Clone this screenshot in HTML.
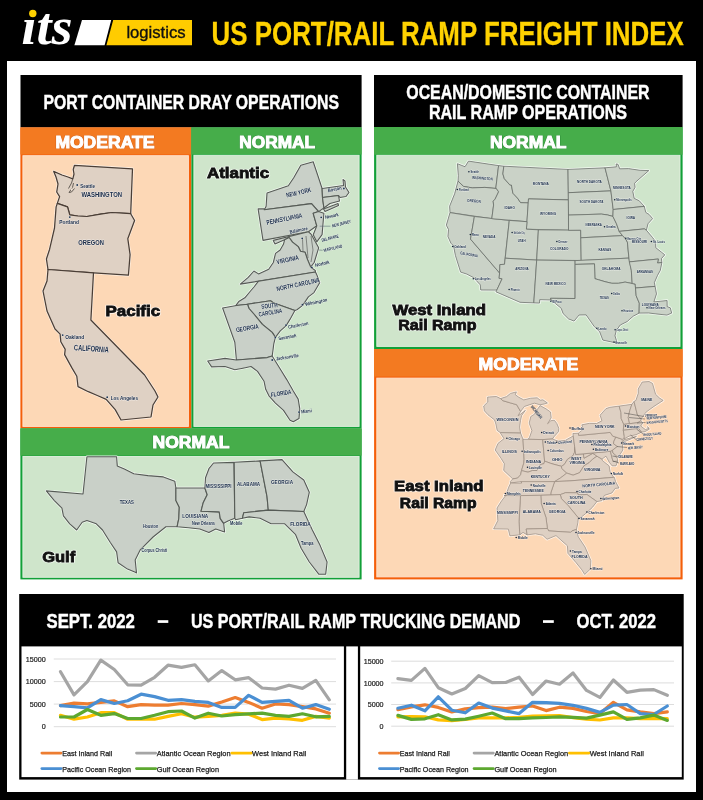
<!DOCTYPE html>
<html><head><meta charset="utf-8">
<style>
html,body{margin:0;padding:0;background:#000;width:703px;height:800px;overflow:hidden}
svg{display:block;will-change:transform}
text{font-family:"Liberation Sans",sans-serif}
.hb{font-weight:bold;fill:#fff}
.lab{font-size:5px;fill:#172a48;paint-order:stroke;stroke:rgba(255,255,255,0.55);stroke-width:0.8px;stroke-linejoin:round;font-family:"Liberation Sans",sans-serif}
.st{fill:none;stroke:#5b5b5b;stroke-width:0.8;stroke-linejoin:round}
</style></head>
<body>
<svg width="703" height="800" viewBox="0 0 703 800">
<rect x="0" y="0" width="703" height="800" fill="#000"/>
<!-- logo -->
<text x="21.5" y="44.2" font-family="Liberation Serif" font-style="italic" font-weight="bold" font-size="53" fill="#fff" textLength="51" lengthAdjust="spacingAndGlyphs" style="font-family:'Liberation Serif',serif">&#305;ts</text>
<circle cx="32.8" cy="13.5" r="3.7" fill="#FFD200"/>
<polygon points="82,20.1 111.2,20.1 104.6,45.2 74.4,45.2" fill="#fff"/>
<polygon points="113.2,20.1 192,20.1 192,45.2 106.4,45.2" fill="#FFCC00"/>
<text x="126.4" y="37.7" font-size="16" fill="#111" stroke="#111" stroke-width="0.35" textLength="59.2" lengthAdjust="spacingAndGlyphs">logistics</text>
<!-- title -->
<text x="211.6" y="45.1" font-size="33.6" font-weight="bold" fill="#FFD200" stroke="#FFD200" stroke-width="0.3" textLength="472.2" lengthAdjust="spacingAndGlyphs">US PORT/RAIL RAMP FREIGHT INDEX</text>

<!-- white frame -->
<rect x="7" y="61" width="689" height="731" fill="#fff"/>

<!-- LEFT PANEL -->
<rect x="20.5" y="75" width="341.1" height="52.5" fill="#000"/>
<text class="hb" x="43.5" y="109.2" font-size="20.2" textLength="295.4" lengthAdjust="spacingAndGlyphs" stroke="#fff" stroke-width="0.45">PORT CONTAINER DRAY OPERATIONS</text>

<!-- orange column -->
<rect x="20.4" y="127.5" width="171" height="300.9" fill="#F45F0A"/>
<rect x="20.4" y="127.5" width="171" height="27" fill="#F37A21"/>
<rect x="22.9" y="155.7" width="165.5" height="270.7" fill="#FDD8B6" stroke="#FEE6D2" stroke-width="0.9"/>
<text class="hb" x="55.4" y="147.5" font-size="16" textLength="99" lengthAdjust="spacingAndGlyphs" stroke="#d9651c" stroke-width="2.2" fill="#d9651c" stroke-linejoin="round" opacity="0.8">MODERATE</text>
<text class="hb" x="55.4" y="147.5" font-size="16" textLength="99" lengthAdjust="spacingAndGlyphs" stroke="#fff" stroke-width="1.0">MODERATE</text>

<!-- green column -->
<rect x="191.4" y="127.5" width="170.2" height="300.8" fill="#12A038"/>
<rect x="191.4" y="127.5" width="170.2" height="27" fill="#46AD4A"/>
<rect x="193.9" y="155.3" width="165.2" height="271.1" fill="#CFE5CB" stroke="#E4F0E2" stroke-width="0.9"/>
<text class="hb" x="239.3" y="147.5" font-size="16" textLength="75.8" lengthAdjust="spacingAndGlyphs" stroke="#2f8f3a" stroke-width="2.2" fill="#2f8f3a" stroke-linejoin="round" opacity="0.8">NORMAL</text>
<text class="hb" x="239.3" y="147.5" font-size="16" textLength="75.8" lengthAdjust="spacingAndGlyphs" stroke="#fff" stroke-width="1.0">NORMAL</text>

<!-- gulf -->
<rect x="20.4" y="428.4" width="341.2" height="151" fill="#12A038"/>
<rect x="20.4" y="428.4" width="341.2" height="27.2" fill="#46AD4A"/>
<rect x="22.9" y="456.5" width="336.2" height="120.8" fill="#CFE5CB" stroke="#E4F0E2" stroke-width="0.9"/>
<text class="hb" x="152.6" y="448.1" font-size="16" textLength="76.8" lengthAdjust="spacingAndGlyphs" stroke="#2f8f3a" stroke-width="2.2" fill="#2f8f3a" stroke-linejoin="round" opacity="0.8">NORMAL</text>
<text class="hb" x="152.6" y="448.1" font-size="16" textLength="76.8" lengthAdjust="spacingAndGlyphs" stroke="#fff" stroke-width="1.0">NORMAL</text>

<!-- RIGHT PANEL -->
<rect x="374" y="75" width="308.6" height="52" fill="#000"/>
<text class="hb" x="406.3" y="99.1" font-size="19.6" textLength="243.2" lengthAdjust="spacingAndGlyphs" stroke="#fff" stroke-width="0.45">OCEAN/DOMESTIC CONTAINER</text>
<text class="hb" x="428.9" y="118.8" font-size="19.6" textLength="198.2" lengthAdjust="spacingAndGlyphs" stroke="#fff" stroke-width="0.45">RAIL RAMP OPERATIONS</text>

<rect x="374.1" y="127" width="308.5" height="222.2" fill="#12A038"/>
<rect x="374.1" y="127" width="308.5" height="27.7" fill="#46AD4A"/>
<rect x="376.8" y="155.3" width="303.2" height="191.1" fill="#CFE5CB" stroke="#E4F0E2" stroke-width="0.9"/>
<text class="hb" x="489.9" y="147.5" font-size="16" textLength="76.6" lengthAdjust="spacingAndGlyphs" stroke="#2f8f3a" stroke-width="2.2" fill="#2f8f3a" stroke-linejoin="round" opacity="0.8">NORMAL</text>
<text class="hb" x="489.9" y="147.5" font-size="16" textLength="76.6" lengthAdjust="spacingAndGlyphs" stroke="#fff" stroke-width="1.0">NORMAL</text>

<rect x="374.1" y="349.2" width="308.5" height="230.2" fill="#F45F0A"/>
<rect x="374.1" y="349.2" width="308.5" height="27.4" fill="#F37A21"/>
<rect x="376.8" y="378.1" width="303.2" height="198.8" fill="#FDD8B6" stroke="#FEE6D2" stroke-width="0.9"/>
<text class="hb" x="478.5" y="370" font-size="16" textLength="99.8" lengthAdjust="spacingAndGlyphs" stroke="#d9651c" stroke-width="2.2" fill="#d9651c" stroke-linejoin="round" opacity="0.8">MODERATE</text>
<text class="hb" x="478.5" y="370" font-size="16" textLength="99.8" lengthAdjust="spacingAndGlyphs" stroke="#fff" stroke-width="1.0">MODERATE</text>

<!-- BOTTOM PANEL -->
<rect x="19.2" y="594" width="664.5" height="185.6" fill="#000"/>
<rect x="21.5" y="646.4" width="322.4" height="130.7" fill="#fff"/>
<rect x="346.2" y="646.4" width="11.7" height="133.2" fill="#fff"/>
<rect x="360.2" y="646.4" width="321.6" height="130.7" fill="#fff"/>
<text class="hb" x="46.5" y="627.7" font-size="20.2" textLength="88.4" lengthAdjust="spacingAndGlyphs" stroke="#fff" stroke-width="0.45">SEPT. 2022</text>
<rect x="157.7" y="620.2" width="10.6" height="2.7" fill="#fff"/>
<text class="hb" x="190.9" y="627.7" font-size="20.2" textLength="329.4" lengthAdjust="spacingAndGlyphs" stroke="#fff" stroke-width="0.45">US PORT/RAIL RAMP TRUCKING DEMAND</text>
<rect x="543" y="620.2" width="10.8" height="2.7" fill="#fff"/>
<text class="hb" x="576.6" y="627.7" font-size="20.2" textLength="79.5" lengthAdjust="spacingAndGlyphs" stroke="#fff" stroke-width="0.45">OCT. 2022</text>

<!-- PACIFIC MAP -->
<defs><g id="map1">
<path d="M53.7,171.4 L62,175 L68,177 L72.8,178.8 L74,174 L73.2,169.5 L74.5,165.3 L132.5,168.8 L130.7,213.7 L111.9,212.5 L100.5,214.2 L86.9,216.5 L77.8,216 L69.8,214.8 L67.5,206.9 L57.3,203.4 L59.6,196.6 L56.7,192 L58,184 L56,177 Z"/>
<path d="M57.3,203.4 L56.1,206.9 L54.5,228 L49.6,249.2 L46.4,259 L48,269.5 L93.5,272.8 L128.4,275.2 L130.1,254.6 L127.8,238.7 L134.6,220.5 L130.7,213.7 L111.9,212.5 L100.5,214.2 L86.9,216.5 L77.8,216 L69.8,214.8 L67.5,206.9 Z"/>
<path d="M48,269.5 L93.5,272.8 L90.9,320 L144.6,375 L155,391 L158,397 L153,405 L151,417 L121,420 L115.2,409.6 L106.2,399.4 L97.3,395.5 L88.3,391.7 L78,386.6 L76.8,376.3 L71.6,367.4 L64.6,354.6 L65.2,349.4 L60.8,341.8 L60.1,334.1 L55,329 L47,311 L43,291 L47,281 Z"/>
</g></defs>
<use href="#map1" fill="none" stroke="#fff4ea" stroke-width="2.4" stroke-linejoin="round"/>
<use href="#map1" fill="#DFD1C4" stroke="#4a3e36" stroke-width="1.25" stroke-linejoin="round"/>
<path d="M72.8,178.8 L71.5,183 L68.5,188.5 M73.5,183 L72.5,187.5 L69,192.5 L71.5,192 L74.5,188.5" fill="none" stroke="#57504a" stroke-width="0.9"/><path d="M70.5,189.5 L72.5,187.5 L72,190.5 Z" fill="#f3e6da"/>
<g class="lab" font-weight="bold">
<circle cx="77.2" cy="185" r="0.9" fill="#1e3553"/>
<text x="80.3" y="187.5" font-size="5.5" textLength="14.7" lengthAdjust="spacingAndGlyphs">Seattle</text>
<text x="81.4" y="196.8" font-size="6.8" textLength="40.7" lengthAdjust="spacingAndGlyphs">WASHINGTON</text>
<circle cx="69.8" cy="217.1" r="0.9" fill="#1e3553"/>
<text x="59.3" y="223.9" font-size="6.2" textLength="19.6" lengthAdjust="spacingAndGlyphs">Portland</text>
<text x="78.3" y="244.6" font-size="8" textLength="25.6" lengthAdjust="spacingAndGlyphs">OREGON</text>
<circle cx="62.7" cy="335.1" r="0.9" fill="#1e3553"/>
<text x="65.2" y="339.2" font-size="5.5" textLength="19" lengthAdjust="spacingAndGlyphs">Oakland</text>
<text x="74" y="350.2" font-size="8.2" textLength="34.8" lengthAdjust="spacingAndGlyphs" transform="rotate(4 74 348)">CALIFORNIA</text>
<circle cx="107.2" cy="397.2" r="0.9" fill="#1e3553"/>
<text x="110.7" y="399.6" font-size="5.5" textLength="27.3" lengthAdjust="spacingAndGlyphs">Los Angeles</text>
</g>
<text x="105.4" y="315.6" font-size="15.1" font-weight="bold" fill="#fff" stroke="#fff" stroke-opacity="0.6" stroke-width="2.6" stroke-linejoin="round" textLength="54.8" lengthAdjust="spacingAndGlyphs">Pacific</text>
<text x="105.4" y="315.6" font-size="15.1" font-weight="bold" fill="#111" stroke="#111" stroke-width="0.8" textLength="54.8" lengthAdjust="spacingAndGlyphs">Pacific</text>

<!-- ATLANTIC MAP -->
<defs><g id="map2">
<path d="M313.2,161.8 L318,176 L322.1,188.5 L322.5,197.5 L323.9,208 L318.6,211.6 L311.5,203.6 L264.3,209.8 L266.1,206.2 L267,192.9 L288.3,185.8 L293.7,177.8 L300.8,165.3 Z"/>
<path d="M323.5,209 L338,203.5 L338.5,205.5 L325,211.5 Z"/>
<path d="M322.1,188.5 L343.5,185.5 L343,179.5 L345,181 L345.5,187 L349,192.5 L346,196.5 L340,197.5 L338.5,195.5 L322.5,197.5 Z"/>
<path d="M322.5,197.5 L338.5,195.5 L339.5,201 L330,203.5 L323.9,208 Z"/>
<path d="M258.1,208.9 L264.3,208.9 L264.3,209.8 L311.5,203.6 L318.6,211.6 L313.2,213.3 L316.8,225.8 L308.5,231.8 L263,240.4 Z"/>
<path d="M318.6,211.6 L323.9,213.3 L322.1,234.7 L316.8,241.8 L313.2,234.7 L316.8,225.8 L313.2,213.3 Z"/>
<path d="M273.2,240.4 L308.5,231.8 L311,234 L318.7,247.8 L314.2,262.5 L310.7,267.1 L307.3,259.1 L305.1,252.3 L300.5,251.2 L298.2,246.6 L292.5,242.1 L289.1,237.5 L284.6,239.8 L275,244 Z"/>
<path d="M240.3,284.1 L248.2,277.3 L253.9,271 L258.5,273.9 L268.7,269.3 L273.3,262.5 L275.5,253.4 L280.1,250 L283.4,244.3 L284.6,239.8 L289.1,237.5 L292.5,242.1 L298.2,246.6 L300.5,251.2 L305.1,252.3 L307.3,259.1 L310.7,267.1 L315.3,270.5 L315.5,272 Z"/>
<path d="M258.5,281.2 L315.5,272 L316.9,274.9 L319.7,282.7 L314,292.6 L308.4,296.9 L302.7,305.4 L297,309.7 L294.9,310.4 L273.8,303.1 L270.5,300.7 L247.5,304.2 L236.4,305.5 L235.7,305.7 L239.1,301.2 L244.8,297.8 L250.5,291 L253.9,287 Z"/>
<path d="M247.5,304.2 L270.5,300.7 L273.8,303.1 L294.9,310.4 L290,319.4 L286,325.9 L280.3,330.8 L275.4,337.3 L272.2,332.4 L262.4,324.3 L254.3,314.5 L249,308.5 Z"/>
<path d="M222.6,308 L236.4,305.5 L247.5,304.2 L249,308.5 L254.3,314.5 L262.4,324.3 L272.2,332.4 L275.4,337.3 L273.8,343.8 L273,350.3 L272.2,356 L267.3,357.6 L236.4,360 L234.8,342.2 Z"/>
<path d="M207.7,361 L225,358.4 L236.4,360 L267.3,357.6 L272.2,356 L278.7,366.5 L286.8,379.6 L293.3,391 L298.2,399.1 L299.8,408.8 L299,418.6 L293.3,421.8 L290,420.2 L283.5,410.4 L275.4,403.1 L268.9,395.8 L265.7,389.3 L264,381.2 L257.5,371.4 L251,366.5 L242.9,368.2 L234.8,369.8 L225,366.5 L211.6,366.9 Z"/>
</g></defs>
<use href="#map2" fill="none" stroke="#f6fbf5" stroke-width="2.4" stroke-linejoin="round"/>
<use href="#map2" fill="#C9D0C8" stroke="#565b56" stroke-width="1.1" stroke-linejoin="round"/>
<g fill="none" stroke="#5f625e" stroke-width="0.7">
<path d="M302.5,238.5 L303,251 M306,236 L308,258 M311,236 L313,250 L311,262"/>
</g>
<g class="lab" font-weight="bold">
<text x="286.7" y="197.6" font-size="6.6" textLength="25.5" lengthAdjust="spacingAndGlyphs" transform="rotate(-13 286.7 197.6)">NEW YORK</text>
<text x="267.1" y="225" font-size="6.8" textLength="36.4" lengthAdjust="spacingAndGlyphs" transform="rotate(-12 267.1 225)">PENNSYLVANIA</text>
<text x="328.3" y="192.3" font-size="5" textLength="13.8" lengthAdjust="spacingAndGlyphs" transform="rotate(-12 328.3 192.3)">Boston</text>
<circle cx="343.9" cy="188.5" r="0.9" fill="#1e3553"/>
<circle cx="321.2" cy="217.3" r="0.9" fill="#1e3553"/>
<text x="325.4" y="219" font-size="5" textLength="13.7" lengthAdjust="spacingAndGlyphs" transform="rotate(-12 325.4 219)">Newark</text>
<text x="332.5" y="227.5" font-size="4.6" textLength="19.3" lengthAdjust="spacingAndGlyphs" transform="rotate(-14 332.5 227.5)">NEW JERSEY</text>
<path d="M319.7,226.2 L330.4,226.2" stroke="#4a5a6a" stroke-width="0.5"/>
<text x="289.9" y="233.8" font-size="5" textLength="18.3" lengthAdjust="spacingAndGlyphs" transform="rotate(-12 289.9 233.8)">Baltimore</text>
<circle cx="302.2" cy="238.3" r="0.9" fill="#1e3553"/>
<text x="321.9" y="241.8" font-size="4.6" textLength="17.7" lengthAdjust="spacingAndGlyphs" transform="rotate(-14 321.9 241.8)">DELAWARE</text>
<text x="324" y="252" font-size="4.6" textLength="19.1" lengthAdjust="spacingAndGlyphs" transform="rotate(-14 324 252)">MARYLAND</text>
<path d="M319,250 L322.6,250.3" stroke="#4a5a6a" stroke-width="0.5"/>
<text x="277.1" y="264.2" font-size="6.6" textLength="22.6" lengthAdjust="spacingAndGlyphs" transform="rotate(-12 277.1 264.2)">VIRGINIA</text>
<circle cx="311.9" cy="267.3" r="0.9" fill="#1e3553"/>
<text x="315.5" y="267" font-size="5" textLength="14.6" lengthAdjust="spacingAndGlyphs" transform="rotate(-13 315.5 267)">Norfolk</text>
<text x="277.1" y="291.2" font-size="6.6" textLength="43.6" lengthAdjust="spacingAndGlyphs" transform="rotate(-12 277.1 291.2)">NORTH CAROLINA</text>
<circle cx="302.4" cy="304.7" r="0.9" fill="#1e3553"/>
<text x="305.5" y="306" font-size="5" textLength="22.6" lengthAdjust="spacingAndGlyphs" transform="rotate(-12 305.5 306)">Wilmington</text>
<text x="261.6" y="308.8" font-size="6.4" textLength="16.2" lengthAdjust="spacingAndGlyphs" transform="rotate(-6 261.6 308.8)">SOUTH</text>
<text x="259.1" y="316.8" font-size="6.4" textLength="23.6" lengthAdjust="spacingAndGlyphs" transform="rotate(-10 259.1 316.8)">CAROLINA</text>
<text x="236.4" y="332.3" font-size="6.6" textLength="23" lengthAdjust="spacingAndGlyphs" transform="rotate(-10 236.4 332.3)">GEORGIA</text>
<circle cx="286" cy="325.1" r="0.9" fill="#1e3553"/>
<text x="288.4" y="328.8" font-size="5" textLength="20.7" lengthAdjust="spacingAndGlyphs" transform="rotate(-11 288.4 328.8)">Charleston</text>
<circle cx="275.4" cy="337.6" r="0.9" fill="#1e3553"/>
<text x="278.7" y="340.2" font-size="5" textLength="18.1" lengthAdjust="spacingAndGlyphs" transform="rotate(-10 278.7 340.2)">Savannah</text>
<circle cx="272.2" cy="360" r="0.9" fill="#1e3553"/>
<text x="276.2" y="360.5" font-size="5" textLength="23.1" lengthAdjust="spacingAndGlyphs" transform="rotate(-9 276.2 360.5)">Jacksonville</text>
<text x="271.3" y="397.2" font-size="6.6" textLength="20.6" lengthAdjust="spacingAndGlyphs" transform="rotate(-9 271.3 397.2)">FLORIDA</text>
<circle cx="299" cy="412.1" r="0.9" fill="#1e3553"/>
<text x="301.4" y="413.5" font-size="5" textLength="10.7" lengthAdjust="spacingAndGlyphs" transform="rotate(-8 301.4 413.5)">Miami</text>
</g>
<text x="206.9" y="178.4" font-size="14.9" font-weight="bold" fill="#fff" stroke="#fff" stroke-opacity="0.6" stroke-width="2.6" stroke-linejoin="round" textLength="62.3" lengthAdjust="spacingAndGlyphs">Atlantic</text>
<text x="206.9" y="178.4" font-size="14.9" font-weight="bold" fill="#111" stroke="#111" stroke-width="0.8" textLength="62.3" lengthAdjust="spacingAndGlyphs">Atlantic</text>

<!-- GULF MAP -->
<defs><g id="map3">
<path d="M86.9,456.8 L116.6,456.8 L117.3,465.9 L124.4,469.1 L133.8,473.8 L148,475.6 L163.4,476.9 L174.8,481.2 L175.9,488 L175.9,500.5 L179.3,507.3 L178.8,518.7 L177.1,526.7 L165.9,526.8 L153.1,537 L140.3,549.8 L135.2,560.1 L136.5,572.9 L135.3,572.2 L127.5,569.1 L118.1,562.8 L116.6,551.9 L110.3,542.5 L102.5,530 L96.3,523.8 L86.9,520.6 L82.2,522.2 L76.7,530 L69.7,523.8 L63.4,515.9 L61.9,508.1 L54.1,500.3 L46.3,490.9 L83,494 Z"/>
<path d="M175.9,488 L204.9,488 L207.2,494.8 L203.2,502.8 L201,511.3 L219.2,511.9 L220.3,518.7 L223.7,523.3 L224.6,532 L215.7,529 L208.9,532.4 L199.8,529 L188.4,527.8 L177.1,526.7 L178.8,518.7 L179.3,507.3 L175.9,500.5 Z"/>
<path d="M213.5,463 L233.9,462.4 L234.8,518.3 L228,521 L223.7,523.3 L220.3,518.7 L219.2,511.9 L201,511.3 L203.2,502.8 L207.2,494.8 L204.9,488 L205.5,477.8 L208.9,468.7 Z"/>
<path d="M234.2,462.3 L260.1,460.9 L267,496.4 L268.3,510.1 L243.7,512.8 L242.4,518.3 L235.6,519.7 L234.8,518.3 Z"/>
<path d="M260.1,460.9 L282,459.6 L292.9,471.9 L303.8,480 L309.3,492.3 L306.6,504.6 L303.8,511.5 L268.3,510.1 L267,496.4 Z"/>
<path d="M243.7,512.8 L268.3,510.1 L303.8,511.5 L312,529.2 L320.2,545.6 L327.1,562 L325.7,574.3 L318.9,574.3 L309.3,562 L301.1,548.3 L295.6,534.7 L284.7,523.8 L271.1,523.8 L260.1,518.3 L249.2,516.9 L242.4,518.3 Z"/>
</g></defs>
<use href="#map3" fill="none" stroke="#f6fbf5" stroke-width="2.4" stroke-linejoin="round"/>
<use href="#map3" fill="#C9D0C8" stroke="#565b56" stroke-width="1.1" stroke-linejoin="round"/>
<g class="lab" font-weight="bold">
<text x="119.7" y="504.3" font-size="5.6" textLength="14.1" lengthAdjust="spacingAndGlyphs">TEXAS</text>
<text x="142.9" y="528" font-size="4.8" textLength="15.3" lengthAdjust="spacingAndGlyphs">Houston</text>
<text x="141.6" y="552.3" font-size="4.8" textLength="25.6" lengthAdjust="spacingAndGlyphs">Corpus Christi</text>
<text x="205.5" y="487.6" font-size="5.6" textLength="26" lengthAdjust="spacingAndGlyphs">MISSISSIPPI</text>
<text x="236.9" y="486.2" font-size="5.6" textLength="23.2" lengthAdjust="spacingAndGlyphs">ALABAMA</text>
<text x="271" y="484.3" font-size="5.6" textLength="22" lengthAdjust="spacingAndGlyphs">GEORGIA</text>
<text x="182.3" y="517.7" font-size="5.6" textLength="25.9" lengthAdjust="spacingAndGlyphs">LOUISIANA</text>
<text x="191.9" y="525.4" font-size="4.8" textLength="23.1" lengthAdjust="spacingAndGlyphs">New Orleans</text>
<text x="230.1" y="524.8" font-size="4.8" textLength="12.3" lengthAdjust="spacingAndGlyphs">Mobile</text>
<text x="290.2" y="525.9" font-size="5.6" textLength="20.5" lengthAdjust="spacingAndGlyphs">FLORIDA</text>
<text x="301.1" y="544.5" font-size="4.8" textLength="12.3" lengthAdjust="spacingAndGlyphs">Tampa</text>
</g>
<text x="42.2" y="561.5" font-size="14.9" font-weight="bold" fill="#fff" stroke="#fff" stroke-opacity="0.6" stroke-width="2.6" stroke-linejoin="round" textLength="33" lengthAdjust="spacingAndGlyphs">Gulf</text>
<text x="42.2" y="561.5" font-size="14.9" font-weight="bold" fill="#111" stroke="#111" stroke-width="0.8" textLength="33" lengthAdjust="spacingAndGlyphs">Gulf</text>

<!-- WEST MAP -->
<defs><g id="map4">
<path d="M457.4,163.7 L465.0,166.7 L468.5,161.1 L498.6,165.6 L495.8,188.4 L496.4,188.5 L484.9,187.4 L472.3,187.9 L463.5,186.4 L458.0,181.1 L458.3,175.6 L457.4,163.7 Z"/>
<path d="M458.0,181.1 L463.5,186.4 L472.3,187.9 L484.9,187.4 L496.4,188.5 L498.6,191.8 L495.1,199.1 L493.2,201.2 L493.6,205.1 L491.8,218.7 L450.0,212.6 L449.6,206.2 L454.6,193.8 Z"/>
<path d="M450.0,212.6 L474.4,216.5 L470.5,239.1 L499.6,273.0 L499.1,278.3 L502.1,278.8 L496.8,290.1 L480.7,290.0 L480.3,284.9 L473.5,277.6 L466.8,274.1 L460.6,272.1 L455.4,255.5 L453.5,245.9 L450.9,243.2 L447.9,236.5 L448.5,229.5 L446.3,225.2 Z"/>
<path d="M474.4,216.5 L509.3,220.4 L504.5,264.3 L499.9,264.6 L499.6,273.0 L470.5,239.1 Z"/>
<path d="M498.6,165.6 L503.8,166.2 L502.9,173.9 L504.3,178.6 L509.8,184.9 L511.4,185.0 L512.9,193.2 L517.5,198.1 L520.6,202.6 L528.3,202.7 L527.0,221.7 L491.8,218.7 L493.6,205.1 L493.2,201.2 L495.1,199.1 L498.6,191.8 L496.4,188.5 L495.8,188.4 Z"/>
<path d="M503.8,166.2 L568.0,169.4 L568.4,199.9 L528.5,198.9 L528.3,202.7 L520.6,202.6 L517.5,198.1 L512.9,193.2 L511.4,185.0 L509.8,184.9 L504.3,178.6 L502.9,173.9 Z"/>
<path d="M528.5,198.9 L568.4,199.9 L568.5,230.3 L526.4,229.2 Z"/>
<path d="M509.3,220.4 L527.0,221.7 L526.4,229.2 L538.4,229.8 L536.7,260.1 L505.2,258.2 Z"/>
<path d="M538.4,229.8 L580.7,230.2 L581.2,260.5 L536.7,260.1 Z"/>
<path d="M505.2,258.2 L536.7,260.1 L533.8,302.9 L520.0,302.3 L495.9,291.8 L496.8,290.1 L502.1,278.8 L499.1,278.3 L499.6,273.0 L499.9,264.6 L504.5,264.3 Z"/>
<path d="M536.7,260.1 L575.1,260.6 L575.1,298.5 L550.5,298.3 L551.1,300.0 L539.7,299.7 L539.5,303.1 L533.8,302.9 Z"/>
<path d="M568.0,169.4 L605.0,167.8 L610.9,190.9 L568.3,192.7 Z"/>
<path d="M568.3,192.7 L610.9,190.9 L613.2,209.5 L612.9,216.4 L607.3,214.9 L601.3,214.1 L568.5,215.1 Z"/>
<path d="M568.5,215.1 L601.3,214.1 L607.3,214.9 L612.9,216.4 L616.5,223.8 L619.2,231.4 L622.5,235.6 L580.8,237.8 L580.7,230.2 L568.5,230.3 Z"/>
<path d="M580.8,237.8 L622.5,235.6 L625.3,238.5 L627.4,242.1 L628.9,258.1 L581.2,260.5 Z"/>
<path d="M575.1,260.6 L628.9,258.1 L631.3,270.2 L632.2,283.5 L625.1,282.1 L618.5,283.3 L611.8,283.3 L605.0,281.7 L598.3,279.7 L594.9,278.7 L594.5,263.9 L575.1,264.4 Z"/>
<path d="M575.1,264.4 L594.5,263.9 L594.9,278.7 L598.3,279.7 L605.0,281.7 L611.8,283.3 L618.5,283.3 L625.1,282.1 L632.2,283.5 L635.2,284.0 L635.5,288.0 L636.2,295.8 L639.3,303.1 L639.1,313.1 L633.3,316.2 L629.9,319.1 L627.3,321.5 L620.3,325.0 L616.3,330.5 L615.0,335.8 L617.2,342.9 L613.1,342.3 L602.8,340.1 L599.7,331.9 L593.9,326.1 L586.1,314.9 L579.1,315.0 L574.1,321.1 L568.5,318.9 L563.1,313.6 L561.2,308.3 L551.1,300.0 L550.5,298.3 L575.1,298.5 Z"/>
<path d="M605.0,167.8 L616.4,166.8 L616.1,163.9 L618.0,164.3 L619.7,168.8 L628.6,168.6 L640.1,170.3 L648.8,170.6 L636.1,181.7 L634.6,183.4 L635.1,187.3 L632.8,191.4 L634.2,198.3 L639.3,200.8 L644.3,206.4 L613.2,209.5 L610.9,190.9 Z"/>
<path d="M613.2,209.5 L644.3,206.4 L645.8,212.4 L649.1,214.4 L652.6,218.6 L648.0,223.8 L646.4,230.2 L644.3,228.9 L619.2,231.4 L616.5,223.8 L612.9,216.4 Z"/>
<path d="M619.2,231.4 L644.3,228.9 L646.4,230.2 L652.4,237.3 L655.6,241.5 L655.8,247.7 L661.8,252.4 L664.8,254.8 L661.4,258.7 L661.9,262.5 L657.5,263.0 L658.4,259.0 L629.3,261.9 L627.4,242.1 L625.3,238.5 L622.5,235.6 Z"/>
<path d="M629.3,261.9 L658.4,259.0 L657.5,263.0 L661.9,262.5 L660.3,270.4 L657.6,275.3 L654.4,282.6 L655.1,286.4 L635.5,288.0 L635.2,284.0 L632.2,283.5 L631.3,270.2 Z"/>
<path d="M635.5,288.0 L655.1,286.4 L656.5,293.9 L653.9,301.9 L667.1,300.5 L667.2,306.6 L670.3,307.8 L671.7,313.1 L666.9,315.1 L655.9,313.9 L648.7,313.0 L639.1,313.1 L639.3,303.1 L636.2,295.8 Z"/>
</g></defs>
<use href="#map4" fill="none" stroke="#f6fbf5" stroke-width="2.4" stroke-linejoin="round"/>
<use href="#map4" fill="#CAD2C7" stroke="#666b66" stroke-width="0.75" stroke-linejoin="round"/>

<g class="lab" font-weight="bold">
<text x="470.5" y="173.4" font-size="3.6" textLength="8.5" lengthAdjust="spacingAndGlyphs">Seattle</text>
<text x="471.9" y="178.7" font-size="4.2" textLength="20.8" lengthAdjust="spacingAndGlyphs" transform="rotate(5 471.9 178.7)">WASHINGTON</text>
<text x="458.9" y="191.0" font-size="3.6" textLength="9.9" lengthAdjust="spacingAndGlyphs">Portland</text>
<text x="467.1" y="201.7" font-size="4.2" textLength="13.6" lengthAdjust="spacingAndGlyphs" transform="rotate(5 467.1 201.7)">OREGON</text>
<text x="504.6" y="208.6" font-size="4.2" textLength="10.3" lengthAdjust="spacingAndGlyphs">IDAHO</text>
<text x="532.8" y="184.7" font-size="4.2" textLength="15.9" lengthAdjust="spacingAndGlyphs">MONTANA</text>
<text x="540.0" y="215.4" font-size="4.2" textLength="16.2" lengthAdjust="spacingAndGlyphs">WYOMING</text>
<text x="471.9" y="236.2" font-size="3.6" textLength="6.9" lengthAdjust="spacingAndGlyphs">Reno</text>
<text x="482.8" y="238.4" font-size="4.2" textLength="12.6" lengthAdjust="spacingAndGlyphs">NEVADA</text>
<text x="513.7" y="234.2" font-size="3.6" textLength="10.9" lengthAdjust="spacingAndGlyphs">Salt Lake City</text>
<text x="517.7" y="242.4" font-size="4.2" textLength="7.9" lengthAdjust="spacingAndGlyphs">UTAH</text>
<text x="558.5" y="243.2" font-size="3.6" textLength="9.0" lengthAdjust="spacingAndGlyphs">Denver</text>
<text x="550.1" y="250.0" font-size="4.2" textLength="18.4" lengthAdjust="spacingAndGlyphs">COLORADO</text>
<text x="454.3" y="248.2" font-size="3.6" textLength="11.6" lengthAdjust="spacingAndGlyphs">Oakland</text>
<text x="459.9" y="254.3" font-size="4.2" textLength="17.9" lengthAdjust="spacingAndGlyphs" transform="rotate(10 459.9 254.3)">CALIFORNIA</text>
<text x="474.9" y="280.4" font-size="3.6" textLength="15.9" lengthAdjust="spacingAndGlyphs">Los Angeles</text>
<text x="515.3" y="270.3" font-size="4.2" textLength="13.3" lengthAdjust="spacingAndGlyphs">ARIZONA</text>
<text x="510.7" y="291.0" font-size="3.6" textLength="9.0" lengthAdjust="spacingAndGlyphs">Phoenix</text>
<text x="545.6" y="285.2" font-size="4.2" textLength="20.3" lengthAdjust="spacingAndGlyphs">NEW MEXICO</text>
<text x="552.5" y="302.9" font-size="3.6" textLength="9.0" lengthAdjust="spacingAndGlyphs">El Paso</text>
<text x="577.1" y="182.8" font-size="4.2" textLength="24.7" lengthAdjust="spacingAndGlyphs">NORTH DAKOTA</text>
<text x="579.6" y="202.5" font-size="4.2" textLength="23.9" lengthAdjust="spacingAndGlyphs">SOUTH DAKOTA</text>
<text x="612.9" y="188.5" font-size="4.2" textLength="17.9" lengthAdjust="spacingAndGlyphs">MINNESOTA</text>
<text x="616.3" y="201.4" font-size="3.6" textLength="15.4" lengthAdjust="spacingAndGlyphs">Minneapolis</text>
<text x="585.6" y="226.4" font-size="4.2" textLength="16.2" lengthAdjust="spacingAndGlyphs">NEBRASKA</text>
<text x="606.1" y="228.4" font-size="3.6" textLength="9.4" lengthAdjust="spacingAndGlyphs">Omaha</text>
<text x="626.6" y="219.2" font-size="4.2" textLength="8.5" lengthAdjust="spacingAndGlyphs">IOWA</text>
<text x="598.4" y="250.6" font-size="4.2" textLength="12.8" lengthAdjust="spacingAndGlyphs">KANSAS</text>
<text x="627.4" y="239.8" font-size="3.6" textLength="13.7" lengthAdjust="spacingAndGlyphs">Kansas City</text>
<text x="631.7" y="243.4" font-size="4.2" textLength="15.4" lengthAdjust="spacingAndGlyphs">MISSOURI</text>
<text x="653.0" y="243.2" font-size="3.6" textLength="12.0" lengthAdjust="spacingAndGlyphs">St. Louis</text>
<text x="601.8" y="269.9" font-size="4.2" textLength="18.8" lengthAdjust="spacingAndGlyphs">OKLAHOMA</text>
<text x="636.8" y="273.3" font-size="4.2" textLength="16.2" lengthAdjust="spacingAndGlyphs">ARKANSAS</text>
<text x="599.7" y="299.3" font-size="4.2" textLength="9.1" lengthAdjust="spacingAndGlyphs">TEXAS</text>
<text x="613.3" y="295.2" font-size="3.6" textLength="6.8" lengthAdjust="spacingAndGlyphs">Dallas</text>
<text x="623.6" y="312.3" font-size="3.6" textLength="9.5" lengthAdjust="spacingAndGlyphs">Houston</text>
<text x="641.8" y="306.1" font-size="4.2" textLength="17.0" lengthAdjust="spacingAndGlyphs">LOUISIANA</text>
<text x="648.6" y="309.3" font-size="3.6" textLength="17.1" lengthAdjust="spacingAndGlyphs">New Orleans</text>
<text x="598.5" y="329.8" font-size="3.6" textLength="8.0" lengthAdjust="spacingAndGlyphs">Laredo</text>
<text x="616.7" y="331.4" font-size="3.6" textLength="11.4" lengthAdjust="spacingAndGlyphs">Corpus Christi</text>
<text x="615.6" y="343.5" font-size="3.6" textLength="11.4" lengthAdjust="spacingAndGlyphs">Brownsville</text>
</g>
<text x="392.4" y="314.7" font-size="14.2" font-weight="bold" fill="#fff" stroke="#fff" stroke-opacity="0.6" stroke-width="2.6" stroke-linejoin="round" textLength="93.6" lengthAdjust="spacingAndGlyphs">West Inland</text>
<text x="392.4" y="314.7" font-size="14.2" font-weight="bold" fill="#111" stroke="#111" stroke-width="0.8" textLength="93.6" lengthAdjust="spacingAndGlyphs">West Inland</text>
<text x="398.2" y="330.3" font-size="14.2" font-weight="bold" fill="#fff" stroke="#fff" stroke-opacity="0.6" stroke-width="2.6" stroke-linejoin="round" textLength="78.4" lengthAdjust="spacingAndGlyphs">Rail Ramp</text>
<text x="398.2" y="330.3" font-size="14.2" font-weight="bold" fill="#111" stroke="#111" stroke-width="0.8" textLength="78.4" lengthAdjust="spacingAndGlyphs">Rail Ramp</text>

<!-- EAST MAP -->
<defs><g id="map5">
<path d="M487.6,397.1 L487.8,402.0 L483.7,406.0 L484.4,410.8 L488.0,414.8 L494.5,419.9 L495.9,424.1 L497.2,430.4 L500.3,432.6 L520.6,433.1 L519.6,427.2 L520.5,420.6 L521.6,415.6 L525.4,410.3 L520.8,414.0 L518.1,415.6 L520.6,411.5 L516.7,404.7 L510.4,402.9 L502.7,400.6 L500.6,398.6 L496.4,396.5 L489.6,396.9 Z"/>
<path d="M500.6,398.6 L502.7,400.6 L510.4,402.9 L516.7,404.7 L520.6,411.5 L524.4,406.5 L529.1,404.9 L534.4,403.2 L540.0,404.8 L544.7,403.9 L547.4,403.0 L542.9,399.8 L540.2,400.2 L537.2,397.8 L530.5,398.2 L523.8,399.9 L518.9,397.3 L515.3,394.7 L516.4,391.9 L510.5,393.4 L506.6,396.6 Z"/>
<path d="M528.2,439.3 L542.7,439.6 L552.4,439.0 L554.0,436.8 L558.5,431.6 L558.8,428.3 L556.8,423.4 L554.3,420.2 L550.8,420.7 L547.6,423.7 L551.2,417.8 L550.5,412.0 L546.0,408.8 L540.1,405.6 L538.3,408.1 L535.8,411.1 L534.7,414.0 L530.8,416.5 L529.2,423.1 L531.9,430.6 L529.5,437.3 Z"/>
<path d="M500.3,432.6 L520.6,433.1 L523.0,439.3 L524.1,459.3 L523.8,463.1 L521.5,470.6 L520.6,474.8 L517.6,478.1 L512.7,478.9 L510.0,476.3 L503.7,470.4 L504.3,463.7 L501.2,458.6 L495.2,450.0 L498.0,443.4 L504.0,438.6 L500.6,433.4 Z"/>
<path d="M523.0,439.3 L528.2,439.3 L542.7,439.6 L544.6,461.1 L544.0,463.6 L540.3,464.6 L537.0,470.5 L532.5,470.5 L528.0,472.2 L521.5,470.6 L523.8,463.1 L524.1,459.3 Z"/>
<path d="M542.7,439.6 L552.4,439.0 L558.1,441.1 L565.3,440.4 L573.3,435.9 L574.7,446.9 L574.5,452.3 L573.0,455.7 L567.5,459.3 L564.3,464.5 L561.5,466.3 L556.1,464.9 L550.7,463.4 L544.6,461.1 Z"/>
<path d="M512.7,478.9 L517.6,478.1 L520.6,474.8 L521.5,470.6 L528.0,472.2 L532.5,470.5 L537.0,470.5 L540.3,464.6 L544.0,463.6 L544.6,461.1 L550.7,463.4 L556.1,464.9 L561.5,466.3 L561.7,468.4 L566.8,473.1 L560.4,478.0 L554.6,481.6 L521.6,483.1 L521.1,481.6 L510.7,483.0 L510.1,481.8 Z"/>
<path d="M574.7,446.9 L575.7,454.5 L583.4,453.9 L584.0,458.2 L592.8,453.3 L597.0,456.2 L592.6,459.2 L589.0,462.8 L584.1,465.7 L579.6,472.7 L573.1,475.2 L566.8,473.1 L561.7,468.4 L561.5,466.3 L564.3,464.5 L567.5,459.3 L573.0,455.7 L574.5,452.3 Z"/>
<path d="M554.6,481.6 L560.4,478.0 L566.8,473.1 L573.1,475.2 L579.6,472.7 L584.1,465.7 L589.0,462.8 L592.6,459.2 L597.0,456.2 L602.0,459.1 L602.6,460.7 L609.1,465.8 L610.1,471.5 L613.7,477.3 L569.9,480.9 Z"/>
<path d="M583.4,453.9 L610.4,451.3 L613.0,461.5 L617.8,461.0 L616.0,465.8 L612.2,465.9 L609.3,462.4 L606.0,456.2 L602.0,459.1 L597.0,456.2 L592.8,453.3 L584.0,458.2 Z"/>
<path d="M610.4,451.3 L612.5,450.2 L612.4,452.1 L617.3,458.2 L617.8,461.0 L613.0,461.5 Z"/>
<path d="M550.8,495.0 L560.3,494.6 L565.6,492.7 L577.3,492.8 L578.4,495.0 L586.9,494.5 L596.9,501.6 L601.9,500.7 L604.4,495.4 L611.9,493.0 L615.2,488.4 L619.0,488.0 L615.6,481.7 L614.4,477.3 L569.9,480.9 L554.6,481.6 L550.8,492.9 Z"/>
<path d="M504.1,495.5 L520.5,495.6 L540.8,495.3 L550.8,495.0 L550.8,492.9 L554.6,481.6 L521.1,481.6 L521.6,483.1 L510.7,483.0 L508.7,487.2 L505.7,495.5 Z"/>
<path d="M560.3,494.6 L565.6,492.7 L577.3,492.8 L578.4,495.0 L586.9,494.5 L596.9,501.6 L592.4,507.4 L586.6,512.8 L579.9,518.3 L578.3,517.8 L571.0,509.0 L568.4,505.8 L561.4,498.7 Z"/>
<path d="M540.8,495.3 L560.3,494.6 L561.4,498.7 L568.4,505.8 L571.0,509.0 L578.3,517.8 L577.9,522.6 L576.5,529.4 L572.1,530.9 L570.6,532.3 L548.7,530.9 L547.4,528.5 L546.0,517.7 L541.3,503.7 Z"/>
<path d="M520.5,495.6 L540.8,495.3 L541.3,503.7 L546.0,517.7 L547.4,528.5 L526.2,529.0 L527.2,534.9 L523.0,532.4 L519.8,534.9 L519.0,521.6 Z"/>
<path d="M504.1,495.5 L520.5,495.6 L519.0,521.6 L519.8,534.9 L509.9,535.8 L508.3,529.1 L493.6,528.9 L497.8,520.6 L497.3,512.2 L497.0,508.0 L501.8,500.5 L505.7,495.5 Z"/>
<path d="M526.2,529.0 L547.4,528.5 L548.7,530.9 L570.6,532.3 L572.1,530.9 L576.5,529.4 L578.3,536.8 L585.1,547.1 L590.9,560.7 L590.3,569.1 L584.7,574.5 L581.8,569.8 L576.1,562.7 L567.9,553.3 L567.4,545.8 L563.0,541.9 L556.0,535.6 L547.1,539.3 L542.8,535.3 L535.4,533.8 L527.2,534.9 Z"/>
<path d="M572.9,433.5 L578.4,433.2 L578.7,435.4 L610.2,432.4 L612.8,436.2 L615.9,437.1 L613.8,441.5 L613.5,443.7 L617.4,446.5 L612.5,450.2 L610.4,451.3 L575.7,454.5 Z"/>
<path d="M615.9,437.1 L622.3,439.3 L622.4,443.8 L622.9,450.0 L620.0,454.5 L617.8,457.0 L612.9,452.9 L612.5,450.2 L617.4,446.5 L613.5,443.7 L613.8,441.5 Z"/>
<path d="M578.4,433.2 L583.2,429.2 L581.8,424.8 L589.5,423.3 L596.6,423.5 L601.9,420.8 L600.1,415.2 L605.9,408.7 L609.9,407.3 L619.2,406.1 L621.0,412.7 L621.2,418.5 L623.8,424.4 L623.3,430.3 L624.3,436.4 L624.1,439.0 L622.3,439.3 L615.9,437.1 L612.8,436.2 L610.2,432.4 L578.7,435.4 Z"/>
<path d="M622.5,442.5 L635.9,436.8 L636.5,436.3 L623.9,439.8 Z"/>
<path d="M619.2,406.1 L631.9,404.3 L629.8,410.5 L628.2,417.5 L629.6,423.7 L623.8,424.4 L621.2,418.5 L621.0,412.7 Z"/>
<path d="M631.9,404.3 L634.0,401.5 L637.5,415.2 L641.2,418.8 L640.9,420.8 L637.8,422.7 L629.6,423.7 L628.2,417.5 L629.8,410.5 Z"/>
<path d="M634.0,401.5 L635.9,400.4 L638.3,393.2 L638.2,389.0 L642.2,382.0 L649.1,381.5 L652.5,383.4 L655.6,394.3 L659.6,398.1 L663.2,400.4 L654.0,406.4 L646.1,412.1 L641.2,418.8 L637.5,415.2 Z"/>
<path d="M623.3,430.3 L623.8,424.4 L629.6,423.7 L637.8,422.7 L640.9,420.8 L642.9,422.7 L640.7,426.0 L645.3,429.5 L648.7,428.5 L647.5,426.6 L649.3,429.2 L645.1,431.6 L641.5,432.2 L638.5,428.3 L635.5,428.8 Z"/>
<path d="M623.3,430.3 L635.5,428.8 L638.5,428.3 L641.5,432.2 L636.1,434.7 L629.0,436.2 L624.1,439.0 L624.3,436.4 Z"/>
</g></defs>
<use href="#map5" fill="none" stroke="#fff4ea" stroke-width="2.4" stroke-linejoin="round"/>
<use href="#map5" fill="#DED0C3" stroke="#988a7e" stroke-width="0.7" stroke-linejoin="round"/>

<g class="lab" font-weight="bold">
<text x="496.4" y="420.6" font-size="4.2" textLength="22.0" lengthAdjust="spacingAndGlyphs">WISCONSIN</text>
<text x="508.5" y="439.9" font-size="3.6" textLength="11.4" lengthAdjust="spacingAndGlyphs">Chicago</text>
<text x="501.8" y="453.1" font-size="4.2" textLength="15.2" lengthAdjust="spacingAndGlyphs">ILLINOIS</text>
<text x="543.3" y="434.0" font-size="3.6" textLength="10.7" lengthAdjust="spacingAndGlyphs">Detroit</text>
<text x="546.9" y="443.5" font-size="3.6" textLength="9.2" lengthAdjust="spacingAndGlyphs">Toledo</text>
<text x="558.3" y="443.9" font-size="3.6" textLength="14.2" lengthAdjust="spacingAndGlyphs" transform="rotate(-5 558.3 443.9)">Cleveland</text>
<text x="523.7" y="452.9" font-size="3.6" textLength="17.1" lengthAdjust="spacingAndGlyphs">Indianapolis</text>
<text x="526.0" y="462.6" font-size="4.2" textLength="15.2" lengthAdjust="spacingAndGlyphs">INDIANA</text>
<text x="549.7" y="452.0" font-size="3.6" textLength="14.2" lengthAdjust="spacingAndGlyphs">Columbus</text>
<text x="551.9" y="461.2" font-size="4.2" textLength="10.6" lengthAdjust="spacingAndGlyphs">OHIO</text>
<text x="529.1" y="468.8" font-size="3.6" textLength="12.8" lengthAdjust="spacingAndGlyphs">Louisville</text>
<text x="571.1" y="459.8" font-size="4.2" textLength="10.3" lengthAdjust="spacingAndGlyphs">WEST</text>
<text x="569.5" y="464.3" font-size="4.2" textLength="15.4" lengthAdjust="spacingAndGlyphs">VIRGINIA</text>
<text x="571.6" y="429.5" font-size="3.6" textLength="12.5" lengthAdjust="spacingAndGlyphs">Buffalo</text>
<text x="641.2" y="401.1" font-size="4.2" textLength="11.0" lengthAdjust="spacingAndGlyphs">MAINE</text>
<text x="645.1" y="417.0" font-size="3.6" textLength="11.8" lengthAdjust="spacingAndGlyphs">VERMONT</text>
<text x="646.7" y="419.6" font-size="3.6" textLength="20.3" lengthAdjust="spacingAndGlyphs" transform="rotate(-5 646.7 419.6)">NEW HAMPSHIRE</text>
<text x="646.7" y="423.9" font-size="3.6" textLength="21.1" lengthAdjust="spacingAndGlyphs" transform="rotate(-5 646.7 423.9)">MASSACHUSETTS</text>
<text x="627.1" y="427.5" font-size="3.6" textLength="12.5" lengthAdjust="spacingAndGlyphs">Boston</text>
<text x="643.6" y="436.1" font-size="3.6" textLength="17.9" lengthAdjust="spacingAndGlyphs" transform="rotate(-5 643.6 436.1)">RHODE ISLAND</text>
<text x="636.5" y="440.8" font-size="3.6" textLength="16.4" lengthAdjust="spacingAndGlyphs" transform="rotate(-5 636.5 440.8)">CONNECTICUT</text>
<text x="595.0" y="427.7" font-size="4.2" textLength="19.6" lengthAdjust="spacingAndGlyphs">NEW YORK</text>
<text x="579.4" y="442.8" font-size="4.2" textLength="28.2" lengthAdjust="spacingAndGlyphs">PENNSYLVANIA</text>
<text x="623.2" y="444.7" font-size="3.6" textLength="11.0" lengthAdjust="spacingAndGlyphs">Newark</text>
<text x="627.9" y="449.4" font-size="3.6" textLength="14.9" lengthAdjust="spacingAndGlyphs" transform="rotate(-5 627.9 449.4)">NEW JERSEY</text>
<text x="593.5" y="446.2" font-size="3.6" textLength="18.0" lengthAdjust="spacingAndGlyphs">Philadelphia</text>
<text x="595.0" y="450.9" font-size="3.6" textLength="13.3" lengthAdjust="spacingAndGlyphs">Baltimore</text>
<text x="618.5" y="458.3" font-size="3.6" textLength="14.1" lengthAdjust="spacingAndGlyphs">DELAWARE</text>
<text x="620.1" y="465.3" font-size="3.6" textLength="14.1" lengthAdjust="spacingAndGlyphs">MARYLAND</text>
<text x="584.1" y="470.7" font-size="4.2" textLength="16.4" lengthAdjust="spacingAndGlyphs">VIRGINIA</text>
<text x="613.0" y="475.2" font-size="3.6" textLength="10.2" lengthAdjust="spacingAndGlyphs">Norfolk</text>
<text x="530.8" y="477.5" font-size="4.2" textLength="18.9" lengthAdjust="spacingAndGlyphs">KENTUCKY</text>
<text x="532.8" y="486.6" font-size="3.6" textLength="12.9" lengthAdjust="spacingAndGlyphs">Nashville</text>
<text x="522.8" y="492.0" font-size="4.2" textLength="20.9" lengthAdjust="spacingAndGlyphs">TENNESSEE</text>
<text x="506.9" y="495.2" font-size="3.6" textLength="13.9" lengthAdjust="spacingAndGlyphs">Memphis</text>
<text x="582.6" y="487.4" font-size="4.2" textLength="32.8" lengthAdjust="spacingAndGlyphs" transform="rotate(-5 582.6 487.4)">NORTH CAROLINA</text>
<text x="578.6" y="493.2" font-size="3.6" textLength="12.9" lengthAdjust="spacingAndGlyphs">Charlotte</text>
<text x="569.6" y="499.4" font-size="4.2" textLength="13.0" lengthAdjust="spacingAndGlyphs">SOUTH</text>
<text x="567.6" y="503.8" font-size="4.2" textLength="18.0" lengthAdjust="spacingAndGlyphs">CAROLINA</text>
<text x="602.5" y="500.2" font-size="3.6" textLength="16.9" lengthAdjust="spacingAndGlyphs" transform="rotate(-5 602.5 500.2)">Wilmington</text>
<text x="496.9" y="514.3" font-size="4.2" textLength="20.9" lengthAdjust="spacingAndGlyphs">MISSISSIPPI</text>
<text x="522.8" y="512.7" font-size="4.2" textLength="17.9" lengthAdjust="spacingAndGlyphs">ALABAMA</text>
<text x="545.7" y="505.2" font-size="3.6" textLength="10.0" lengthAdjust="spacingAndGlyphs">Atlanta</text>
<text x="548.7" y="512.7" font-size="4.2" textLength="16.9" lengthAdjust="spacingAndGlyphs">GEORGIA</text>
<text x="588.5" y="513.5" font-size="3.6" textLength="16.0" lengthAdjust="spacingAndGlyphs">Charleston</text>
<text x="580.6" y="520.1" font-size="3.6" textLength="13.9" lengthAdjust="spacingAndGlyphs">Savannah</text>
<text x="517.8" y="539.0" font-size="3.6" textLength="10.0" lengthAdjust="spacingAndGlyphs">Mobile</text>
<text x="577.6" y="534.0" font-size="3.6" textLength="16.9" lengthAdjust="spacingAndGlyphs">Jacksonville</text>
<text x="572.0" y="552.6" font-size="3.6" textLength="9.6" lengthAdjust="spacingAndGlyphs">Tampa</text>
<text x="571.6" y="558.1" font-size="4.2" textLength="15.9" lengthAdjust="spacingAndGlyphs">FLORIDA</text>
<text x="592.5" y="570.3" font-size="3.6" textLength="10.0" lengthAdjust="spacingAndGlyphs">Miami</text>
</g>
<text x="530.5" y="407" font-size="4.2" font-weight="bold" fill="#1e3553" textLength="15.5" lengthAdjust="spacingAndGlyphs" transform="rotate(50 530.5 407)">MICHIGAN</text>
<g stroke="#333" stroke-width="0.45"><path d="M624,413 L644,416.5 M629,417.5 L645,419 M637,423 L645.5,422.5 M636.5,429 L643,434 M630.5,435 L636,439.5 M617,446.5 L627,447.5 M612.5,456 L617.5,457 M613,461 L619,463"/></g>
<text x="394.1" y="491.1" font-size="14.2" font-weight="bold" fill="#fff" stroke="#fff" stroke-opacity="0.6" stroke-width="2.6" stroke-linejoin="round" textLength="89.3" lengthAdjust="spacingAndGlyphs">East Inland</text>
<text x="394.1" y="491.1" font-size="14.2" font-weight="bold" fill="#111" stroke="#111" stroke-width="0.8" textLength="89.3" lengthAdjust="spacingAndGlyphs">East Inland</text>
<text x="399.8" y="507.6" font-size="14.2" font-weight="bold" fill="#fff" stroke="#fff" stroke-opacity="0.6" stroke-width="2.6" stroke-linejoin="round" textLength="76.9" lengthAdjust="spacingAndGlyphs">Rail Ramp</text>
<text x="399.8" y="507.6" font-size="14.2" font-weight="bold" fill="#111" stroke="#111" stroke-width="0.8" textLength="76.9" lengthAdjust="spacingAndGlyphs">Rail Ramp</text>

<g><circle cx="468.9" cy="171.8" r="0.75" fill="#0e1e36"/><circle cx="457.3" cy="189.4" r="0.75" fill="#0e1e36"/><circle cx="470.3" cy="234.6" r="0.75" fill="#0e1e36"/><circle cx="512.1" cy="232.6" r="0.75" fill="#0e1e36"/><circle cx="556.9" cy="241.6" r="0.75" fill="#0e1e36"/><circle cx="452.7" cy="246.6" r="0.75" fill="#0e1e36"/><circle cx="473.3" cy="278.8" r="0.75" fill="#0e1e36"/><circle cx="509.1" cy="289.4" r="0.75" fill="#0e1e36"/><circle cx="550.9" cy="301.3" r="0.75" fill="#0e1e36"/><circle cx="614.7" cy="199.8" r="0.75" fill="#0e1e36"/><circle cx="604.5" cy="226.8" r="0.75" fill="#0e1e36"/><circle cx="625.8" cy="238.2" r="0.75" fill="#0e1e36"/><circle cx="651.4" cy="241.6" r="0.75" fill="#0e1e36"/><circle cx="611.7" cy="293.6" r="0.75" fill="#0e1e36"/><circle cx="622.0" cy="310.7" r="0.75" fill="#0e1e36"/><circle cx="647.0" cy="307.7" r="0.75" fill="#0e1e36"/><circle cx="596.9" cy="328.2" r="0.75" fill="#0e1e36"/><circle cx="615.1" cy="329.8" r="0.75" fill="#0e1e36"/><circle cx="614.0" cy="341.9" r="0.75" fill="#0e1e36"/><circle cx="506.9" cy="438.3" r="0.75" fill="#0e1e36"/><circle cx="541.7" cy="432.4" r="0.75" fill="#0e1e36"/><circle cx="545.3" cy="441.9" r="0.75" fill="#0e1e36"/><circle cx="556.7" cy="442.3" r="0.75" fill="#0e1e36"/><circle cx="522.1" cy="451.3" r="0.75" fill="#0e1e36"/><circle cx="548.1" cy="450.4" r="0.75" fill="#0e1e36"/><circle cx="527.5" cy="467.2" r="0.75" fill="#0e1e36"/><circle cx="570.0" cy="427.9" r="0.75" fill="#0e1e36"/><circle cx="625.5" cy="425.9" r="0.75" fill="#0e1e36"/><circle cx="621.6" cy="443.1" r="0.75" fill="#0e1e36"/><circle cx="591.9" cy="444.6" r="0.75" fill="#0e1e36"/><circle cx="593.4" cy="449.3" r="0.75" fill="#0e1e36"/><circle cx="611.4" cy="473.6" r="0.75" fill="#0e1e36"/><circle cx="531.2" cy="485.0" r="0.75" fill="#0e1e36"/><circle cx="505.3" cy="493.6" r="0.75" fill="#0e1e36"/><circle cx="577.0" cy="491.6" r="0.75" fill="#0e1e36"/><circle cx="600.9" cy="498.6" r="0.75" fill="#0e1e36"/><circle cx="544.1" cy="503.6" r="0.75" fill="#0e1e36"/><circle cx="586.9" cy="511.9" r="0.75" fill="#0e1e36"/><circle cx="579.0" cy="518.5" r="0.75" fill="#0e1e36"/><circle cx="516.2" cy="537.4" r="0.75" fill="#0e1e36"/><circle cx="576.0" cy="532.4" r="0.75" fill="#0e1e36"/><circle cx="570.4" cy="551.0" r="0.75" fill="#0e1e36"/><circle cx="590.9" cy="568.7" r="0.75" fill="#0e1e36"/></g>
<!--MAPS-->
<!-- CHARTS -->
<line x1="53.8" y1="726.7" x2="336.0" y2="726.7" stroke="#d9d9d9" stroke-width="0.9"/>
<text x="45.7" y="729.3" font-size="7.4" text-anchor="end" fill="#1a1a1a" stroke="#1a1a1a" stroke-width="0.2" textLength="4.0" lengthAdjust="spacingAndGlyphs">0</text>
<line x1="53.8" y1="704.1" x2="336.0" y2="704.1" stroke="#d9d9d9" stroke-width="0.9"/>
<text x="45.7" y="706.7" font-size="7.4" text-anchor="end" fill="#1a1a1a" stroke="#1a1a1a" stroke-width="0.2" textLength="15.9" lengthAdjust="spacingAndGlyphs">5000</text>
<line x1="53.8" y1="681.6" x2="336.0" y2="681.6" stroke="#d9d9d9" stroke-width="0.9"/>
<text x="45.7" y="684.2" font-size="7.4" text-anchor="end" fill="#1a1a1a" stroke="#1a1a1a" stroke-width="0.2" textLength="19.9" lengthAdjust="spacingAndGlyphs">10000</text>
<line x1="53.8" y1="659.0" x2="336.0" y2="659.0" stroke="#d9d9d9" stroke-width="0.9"/>
<text x="45.7" y="661.6" font-size="7.4" text-anchor="end" fill="#1a1a1a" stroke="#1a1a1a" stroke-width="0.2" textLength="19.9" lengthAdjust="spacingAndGlyphs">15000</text>
<path d="M60.5,705.6 L74.0,703.1 L87.4,703.9 L100.8,702.4 L114.3,700.9 L127.7,706.7 L141.1,704.6 L154.6,705.2 L168.0,705.2 L181.5,703.5 L194.9,704.6 L208.3,706.1 L221.8,702.0 L235.2,697.5 L248.7,702.4 L262.1,708.2 L275.5,703.9 L289.0,704.6 L302.4,706.7 L315.8,708.9 L329.3,713.2" fill="none" stroke="#ED7D31" stroke-width="3.2" stroke-linejoin="round" stroke-linecap="round"/>
<path d="M60.5,671.7 L74.0,694.9 L87.4,681.6 L100.8,660.1 L114.3,669.5 L127.7,684.8 L141.1,685.2 L154.6,677.3 L168.0,665.2 L181.5,667.4 L194.9,664.8 L208.3,680.9 L221.8,670.6 L235.2,679.8 L248.7,677.7 L262.1,688.0 L275.5,689.1 L289.0,685.2 L302.4,688.4 L315.8,680.3 L329.3,699.8" fill="none" stroke="#A5A5A5" stroke-width="3.2" stroke-linejoin="round" stroke-linecap="round"/>
<path d="M60.5,715.3 L74.0,719.2 L87.4,717.0 L100.8,712.7 L114.3,712.7 L127.7,719.2 L141.1,719.0 L154.6,719.2 L168.0,716.4 L181.5,713.8 L194.9,717.2 L208.3,716.4 L221.8,715.3 L235.2,713.2 L248.7,714.2 L262.1,719.6 L275.5,718.1 L289.0,719.0 L302.4,720.3 L315.8,716.4 L329.3,718.1" fill="none" stroke="#FFC000" stroke-width="3.2" stroke-linejoin="round" stroke-linecap="round"/>
<path d="M60.5,705.6 L74.0,706.7 L87.4,707.8 L100.8,699.6 L114.3,703.5 L127.7,700.7 L141.1,694.2 L154.6,696.6 L168.0,700.3 L181.5,699.6 L194.9,701.4 L208.3,702.4 L221.8,707.4 L235.2,707.4 L248.7,695.3 L262.1,702.4 L275.5,701.3 L289.0,700.3 L302.4,708.2 L315.8,704.6 L329.3,709.3" fill="none" stroke="#4A8FD3" stroke-width="3.2" stroke-linejoin="round" stroke-linecap="round"/>
<path d="M60.5,717.0 L74.0,717.0 L87.4,709.5 L100.8,715.3 L114.3,713.6 L127.7,718.5 L141.1,718.5 L154.6,715.3 L168.0,711.7 L181.5,711.0 L194.9,718.1 L208.3,713.2 L221.8,716.0 L235.2,714.7 L248.7,713.8 L262.1,713.2 L275.5,715.3 L289.0,716.4 L302.4,713.8 L315.8,716.8 L329.3,716.4" fill="none" stroke="#5DA830" stroke-width="3.2" stroke-linejoin="round" stroke-linecap="round"/>
<line x1="41.8" y1="753.1" x2="61.1" y2="753.1" stroke="#ED7D31" stroke-width="2.6" stroke-linecap="round"/>
<text x="62.2" y="756.0" font-size="7.6" fill="#1a1a1a" stroke="#1a1a1a" stroke-width="0.25" textLength="50.1" lengthAdjust="spacingAndGlyphs">East Inland Rail</text>
<line x1="136.4" y1="753.1" x2="155.8" y2="753.1" stroke="#A5A5A5" stroke-width="2.6" stroke-linecap="round"/>
<text x="156.8" y="756.0" font-size="7.6" fill="#1a1a1a" stroke="#1a1a1a" stroke-width="0.25" textLength="73.8" lengthAdjust="spacingAndGlyphs">Atlantic Ocean Region</text>
<line x1="231.7" y1="753.1" x2="251.4" y2="753.1" stroke="#FFC000" stroke-width="2.6" stroke-linecap="round"/>
<text x="252.1" y="756.0" font-size="7.6" fill="#1a1a1a" stroke="#1a1a1a" stroke-width="0.25" textLength="54.1" lengthAdjust="spacingAndGlyphs">West Inland Rail</text>
<line x1="41.8" y1="768.6" x2="61.1" y2="768.6" stroke="#4A8FD3" stroke-width="2.6" stroke-linecap="round"/>
<text x="62.2" y="771.5" font-size="7.6" fill="#1a1a1a" stroke="#1a1a1a" stroke-width="0.25" textLength="68.8" lengthAdjust="spacingAndGlyphs">Pacific Ocean Region</text>
<line x1="136.4" y1="768.6" x2="155.8" y2="768.6" stroke="#5DA830" stroke-width="2.6" stroke-linecap="round"/>
<text x="156.8" y="771.5" font-size="7.6" fill="#1a1a1a" stroke="#1a1a1a" stroke-width="0.25" textLength="62.2" lengthAdjust="spacingAndGlyphs">Gulf Ocean Region</text>
<line x1="391.2" y1="726.2" x2="674.0" y2="726.2" stroke="#d9d9d9" stroke-width="0.9"/>
<text x="383.6" y="728.8" font-size="7.4" text-anchor="end" fill="#1a1a1a" stroke="#1a1a1a" stroke-width="0.2" textLength="4.0" lengthAdjust="spacingAndGlyphs">0</text>
<line x1="391.2" y1="704.5" x2="674.0" y2="704.5" stroke="#d9d9d9" stroke-width="0.9"/>
<text x="383.6" y="707.1" font-size="7.4" text-anchor="end" fill="#1a1a1a" stroke="#1a1a1a" stroke-width="0.2" textLength="15.9" lengthAdjust="spacingAndGlyphs">5000</text>
<line x1="391.2" y1="682.9" x2="674.0" y2="682.9" stroke="#d9d9d9" stroke-width="0.9"/>
<text x="383.6" y="685.5" font-size="7.4" text-anchor="end" fill="#1a1a1a" stroke="#1a1a1a" stroke-width="0.2" textLength="19.9" lengthAdjust="spacingAndGlyphs">10000</text>
<line x1="391.2" y1="661.2" x2="674.0" y2="661.2" stroke="#d9d9d9" stroke-width="0.9"/>
<text x="383.6" y="663.8" font-size="7.4" text-anchor="end" fill="#1a1a1a" stroke="#1a1a1a" stroke-width="0.2" textLength="19.9" lengthAdjust="spacingAndGlyphs">15000</text>
<path d="M397.9,709.6 L411.4,706.9 L424.9,704.8 L438.3,707.4 L451.8,712.0 L465.3,708.9 L478.7,707.7 L492.2,707.2 L505.7,708.7 L519.1,707.2 L532.6,706.0 L546.1,710.6 L559.5,707.2 L573.0,708.4 L586.5,711.5 L599.9,713.6 L613.4,702.3 L626.9,709.8 L640.3,711.9 L653.8,713.6 L667.3,711.9" fill="none" stroke="#ED7D31" stroke-width="3.2" stroke-linejoin="round" stroke-linecap="round"/>
<path d="M397.9,678.7 L411.4,680.4 L424.9,668.4 L438.3,687.7 L451.8,694.0 L465.3,688.5 L478.7,675.7 L492.2,682.7 L505.7,682.5 L519.1,677.2 L532.6,694.5 L546.1,681.0 L559.5,684.2 L573.0,672.9 L586.5,690.4 L599.9,697.4 L613.4,680.0 L626.9,692.3 L640.3,690.2 L653.8,689.6 L667.3,695.3" fill="none" stroke="#A5A5A5" stroke-width="3.2" stroke-linejoin="round" stroke-linecap="round"/>
<path d="M397.9,716.8 L411.4,716.5 L424.9,716.8 L438.3,719.9 L451.8,720.6 L465.3,719.5 L478.7,717.9 L492.2,717.9 L505.7,717.9 L519.1,717.3 L532.6,716.2 L546.1,715.8 L559.5,715.5 L573.0,717.6 L586.5,719.1 L599.9,720.0 L613.4,717.9 L626.9,717.9 L640.3,718.7 L653.8,718.3 L667.3,718.7" fill="none" stroke="#FFC000" stroke-width="3.2" stroke-linejoin="round" stroke-linecap="round"/>
<path d="M397.9,708.2 L411.4,705.2 L424.9,710.8 L438.3,696.8 L451.8,710.2 L465.3,712.8 L478.7,703.0 L492.2,708.1 L505.7,710.9 L519.1,713.6 L532.6,702.3 L546.1,702.6 L559.5,703.4 L573.0,705.3 L586.5,708.4 L599.9,712.4 L613.4,705.1 L626.9,704.5 L640.3,713.6 L653.8,714.5 L667.3,706.0" fill="none" stroke="#4A8FD3" stroke-width="3.2" stroke-linejoin="round" stroke-linecap="round"/>
<path d="M397.9,715.4 L411.4,719.4 L424.9,718.8 L438.3,714.7 L451.8,719.9 L465.3,719.1 L478.7,716.2 L492.2,713.0 L505.7,718.7 L519.1,718.7 L532.6,717.9 L546.1,717.5 L559.5,716.9 L573.0,717.3 L586.5,718.1 L599.9,715.1 L613.4,711.9 L626.9,719.4 L640.3,717.9 L653.8,715.1 L667.3,720.4" fill="none" stroke="#5DA830" stroke-width="3.2" stroke-linejoin="round" stroke-linecap="round"/>
<line x1="379.4" y1="753.1" x2="398.7" y2="753.1" stroke="#ED7D31" stroke-width="2.6" stroke-linecap="round"/>
<text x="399.8" y="756.0" font-size="7.6" fill="#1a1a1a" stroke="#1a1a1a" stroke-width="0.25" textLength="50.1" lengthAdjust="spacingAndGlyphs">East Inland Rail</text>
<line x1="474.0" y1="753.1" x2="493.4" y2="753.1" stroke="#A5A5A5" stroke-width="2.6" stroke-linecap="round"/>
<text x="494.4" y="756.0" font-size="7.6" fill="#1a1a1a" stroke="#1a1a1a" stroke-width="0.25" textLength="73.8" lengthAdjust="spacingAndGlyphs">Atlantic Ocean Region</text>
<line x1="569.3" y1="753.1" x2="589.0" y2="753.1" stroke="#FFC000" stroke-width="2.6" stroke-linecap="round"/>
<text x="589.7" y="756.0" font-size="7.6" fill="#1a1a1a" stroke="#1a1a1a" stroke-width="0.25" textLength="54.1" lengthAdjust="spacingAndGlyphs">West Inland Rail</text>
<line x1="379.4" y1="768.6" x2="398.7" y2="768.6" stroke="#4A8FD3" stroke-width="2.6" stroke-linecap="round"/>
<text x="399.8" y="771.5" font-size="7.6" fill="#1a1a1a" stroke="#1a1a1a" stroke-width="0.25" textLength="68.8" lengthAdjust="spacingAndGlyphs">Pacific Ocean Region</text>
<line x1="474.0" y1="768.6" x2="493.4" y2="768.6" stroke="#5DA830" stroke-width="2.6" stroke-linecap="round"/>
<text x="494.4" y="771.5" font-size="7.6" fill="#1a1a1a" stroke="#1a1a1a" stroke-width="0.25" textLength="62.2" lengthAdjust="spacingAndGlyphs">Gulf Ocean Region</text>

<!--CHARTS-->
</svg>
</body></html>
